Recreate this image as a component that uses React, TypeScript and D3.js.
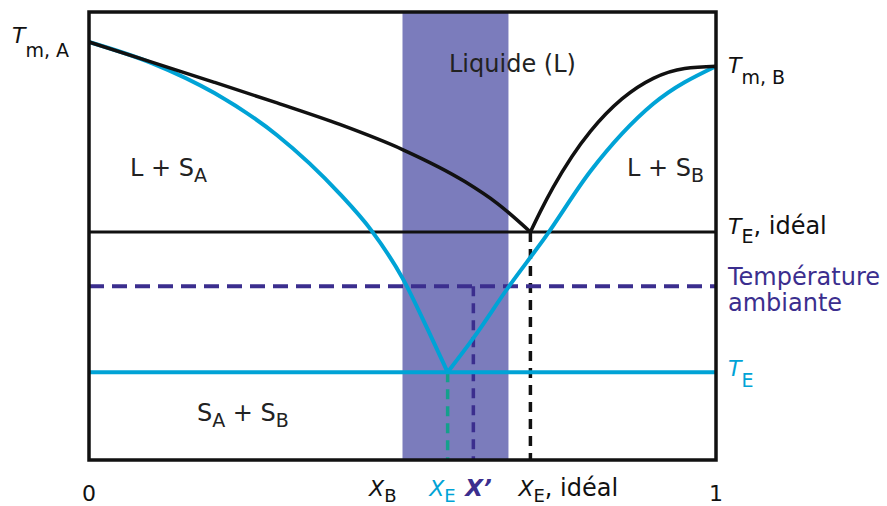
import React from 'react';
import * as d3 from 'd3';

// composition (mole fraction of B) and temperature (arbitrary units, 0 = bottom of frame)
const bandX = [0.5, 0.669];
const tmA = 93.3;
const tmB = 87.9;
const tEideal = 50.9;
const tAmbient = 38.8;
const tE = 19.6;
const xE = 0.572;
const xPrime = 0.613;
const xEideal = 0.704;

// ideal liquidus (black)
const idealLeft: [number, number][] = [
  [0, 93.3], [0.1, 88.8], [0.2, 84.3], [0.3, 79.7], [0.4, 74.9],
  [0.5, 69.3], [0.6, 62.1], [0.651, 57.3], [0.704, 50.9],
];
const idealRight: [number, number][] = [
  [0.704, 50.9], [0.72, 55.5], [0.74, 60.8], [0.77, 67.7], [0.8, 73.4],
  [0.85, 80.6], [0.9, 85.2], [0.95, 87.4], [1, 87.9],
];

// real liquidus (blue)
const realLeft: [number, number][] = [
  [0, 93.3], [0.1, 88.6], [0.2, 81.9], [0.3, 72.5], [0.4, 59.4],
  [0.45, 51.3], [0.5, 40.6], [0.54, 29.2], [0.572, 19.6],
];
const realRight: [number, number][] = [
  [0.572, 19.6], [0.613, 27.2], [0.669, 38.6], [0.728, 49.8],
  [0.8, 64.5], [0.9, 79.5], [1, 87.9],
];

const BLUE = '#00a3d6';
const PURPLE = '#3b2e8e';
const BAND = '#7b7cbc';
const TEAL = '#14a08c';
const FONT = 'DejaVu Sans, sans-serif';

export default function App() {
  const width = 887;
  const height = 506;

  const x = d3.scaleLinear().domain([0, 1]).range([89, 716]);
  const y = d3.scaleLinear().domain([0, 100]).range([460, 12]);

  const line = d3.line<[number, number]>()
    .x(d => x(d[0]))
    .y(d => y(d[1]))
    .curve(d3.curveMonotoneX);

  const xr = x(1);

  return (
    <div style={{ position: 'absolute', left: 0, top: 0 }}>
      <svg width={width} height={height} style={{ display: 'block', fontFamily: FONT }}>
        <rect x={0} y={0} width={width} height={height} fill="#fff" />

        {/* composition band */}
        <rect x={x(bandX[0])} y={y(100)} width={x(bandX[1]) - x(bandX[0])}
          height={y(0) - y(100)} fill={BAND} />

        {/* vertical drop lines */}
        <line x1={x(xE)} x2={x(xE)} y1={y(tE)} y2={y(0)} stroke={TEAL}
          strokeWidth={3.5} strokeDasharray="10,7" />
        <line x1={x(xPrime)} x2={x(xPrime)} y1={y(tAmbient)} y2={y(0)} stroke={PURPLE}
          strokeWidth={3.5} strokeDasharray="10,7" />
        <line x1={x(xEideal)} x2={x(xEideal)} y1={y(tEideal)} y2={y(0)} stroke="#111"
          strokeWidth={3.5} strokeDasharray="10,7" />

        {/* horizontal levels */}
        <line x1={x(0)} x2={xr} y1={y(tEideal)} y2={y(tEideal)} stroke="#111" strokeWidth={3} />
        <line x1={x(0)} x2={xr} y1={y(tAmbient)} y2={y(tAmbient)} stroke={PURPLE}
          strokeWidth={4} strokeDasharray="15,8" />
        <line x1={x(0)} x2={xr} y1={y(tE)} y2={y(tE)} stroke={BLUE} strokeWidth={4} />

        {/* curves */}
        <path d={line(realLeft) || ''} fill="none" stroke={BLUE} strokeWidth={4} />
        <path d={line(realRight) || ''} fill="none" stroke={BLUE} strokeWidth={4} />
        <path d={line(idealLeft) || ''} fill="none" stroke="#111" strokeWidth={3.5} />
        <path d={line(idealRight) || ''} fill="none" stroke="#111" strokeWidth={3.5} />

        {/* frame */}
        <rect x={x(0)} y={y(100)} width={xr - x(0)} height={y(0) - y(100)}
          fill="none" stroke="#111" strokeWidth={3.5} />

        {/* region labels */}
        <text x={449} y={72} fontSize={24} fill="#222">Liquide (L)</text>
        <text x={130} y={176} fontSize={24} fill="#222">
          L + S<tspan fontSize={19} dy={6}>A</tspan>
        </text>
        <text x={627} y={176} fontSize={24} fill="#222">
          L + S<tspan fontSize={19} dy={6}>B</tspan>
        </text>
        <text x={197} y={421} fontSize={24} fill="#222">
          S<tspan fontSize={19} dy={6}>A</tspan><tspan dy={-6}> + S</tspan><tspan fontSize={19} dy={6}>B</tspan>
        </text>

        {/* temperature labels */}
        <text x={12} y={y(tmA) + 1} fontSize={22} fill="#111">
          <tspan fontStyle="italic">T</tspan><tspan fontSize={19} dy={14}>m, A</tspan>
        </text>
        <text x={xr + 12} y={y(tmB) + 7} fontSize={22} fill="#111">
          <tspan fontStyle="italic">T</tspan><tspan fontSize={19} dy={11}>m, B</tspan>
        </text>
        <text x={xr + 12} y={y(tEideal) + 2} fontSize={24} fill="#111">
          <tspan fontStyle="italic" fontSize={22}>T</tspan><tspan fontSize={19} dy={9}>E</tspan><tspan dy={-9}>, idéal</tspan>
        </text>
        <text x={xr + 12} y={y(tAmbient) - 1} fontSize={24} fill={PURPLE}>Température</text>
        <text x={xr + 12} y={y(tAmbient) + 25} fontSize={24} fill={PURPLE}>ambiante</text>
        <text x={xr + 12} y={y(tE) + 4} fontSize={22} fill={BLUE}>
          <tspan fontStyle="italic">T</tspan><tspan fontSize={19} dy={11}>E</tspan>
        </text>

        {/* composition labels */}
        <text x={x(0)} y={501} fontSize={22} fill="#111" textAnchor="middle">0</text>
        <text x={x(1)} y={501} fontSize={22} fill="#111" textAnchor="middle">1</text>
        <text x={x(bandX[0]) - 6} y={496} fontSize={22} fill="#111" textAnchor="end">
          <tspan fontStyle="italic">X</tspan><tspan fontSize={18} dy={6}>B</tspan>
        </text>
        <text x={x(xE) + 8} y={496} fontSize={22} fill={BLUE} textAnchor="end">
          <tspan fontStyle="italic">X</tspan><tspan fontSize={18} dy={6}>E</tspan>
        </text>
        <text x={x(xPrime) - 8} y={496} fontSize={23} fill={PURPLE} fontWeight="bold" fontStyle="italic">
          X’
        </text>
        <text x={x(xEideal) - 12} y={496} fontSize={22} fill="#111">
          <tspan fontStyle="italic">X</tspan><tspan fontSize={18} dy={6}>E</tspan><tspan fontSize={24} dy={-6}>, idéal</tspan>
        </text>
      </svg>
    </div>
  );
}
